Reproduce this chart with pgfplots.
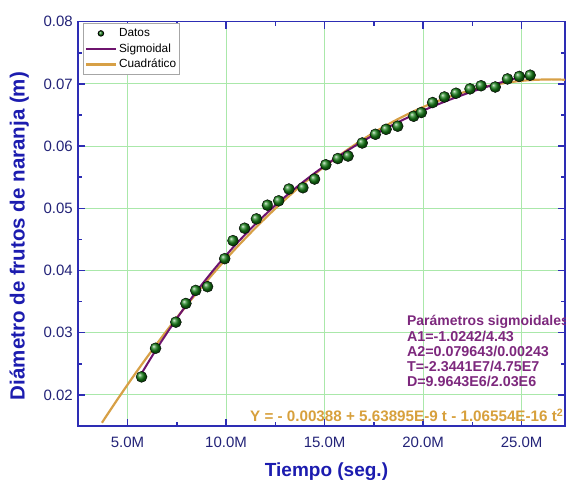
\documentclass[border=0pt]{standalone}
\usepackage{pgfplots}
\pgfplotsset{compat=1.18}
\usepackage{fontspec}
\setmainfont{Liberation Sans}
\definecolor{axisblue}{RGB}{45,45,180}
\definecolor{tickblue}{RGB}{35,35,120}
\definecolor{labelblue}{RGB}{28,28,175}
\definecolor{gridgreen}{RGB}{170,232,170}
\definecolor{dotgreen}{RGB}{20,125,20}
\definecolor{sigpurple}{RGB}{110,20,110}
\definecolor{quadorange}{RGB}{215,160,70}
\definecolor{parpurple}{RGB}{125,40,125}
\definecolor{eqorange}{RGB}{215,160,60}
\begin{document}
\begin{tikzpicture}
\begin{axis}[
  set layers,
  at={(0pt,0pt)}, anchor=south west,
  scale only axis, width=486.7pt, height=404.3pt,
  xmin=2.5, xmax=27.2, ymin=0.015, ymax=0.08,
  scaled y ticks=false, scaled x ticks=false,
  xtick={5,10,15,20,25}, xticklabels={5.0M,10.0M,15.0M,20.0M,25.0M},
  minor xtick={2.5,7.5,12.5,17.5,22.5},
  ytick={0.02,0.03,0.04,0.05,0.06,0.07,0.08},
  yticklabels={0.02,0.03,0.04,0.05,0.06,0.07,0.08},
  minor ytick={0.015,0.025,0.035,0.045,0.055,0.065,0.075},
  grid=major, major grid style={gridgreen, line width=0.8pt},
  axis line style={axisblue, line width=1.6pt},
  tick style={axisblue, line width=1.5pt},
  major tick length=7pt, minor tick length=4pt,
  tick align=inside,
  /pgf/number format/assume math mode=true,
  ticklabel style={font=\fontsize{15}{18}\selectfont, text=tickblue},
  xticklabel style={yshift=-7pt},
  yticklabel style={xshift=-2pt},
  xlabel={Tiempo (seg.)},
  every axis x label/.style={at={(axis description cs:0.51,-0.1138)}, anchor=center,
    font=\bfseries\fontsize{19}{22}\selectfont, text=labelblue},
  ylabel={Diámetro de frutos de naranja (m)},
  every axis y label/.style={at={(axis description cs:-0.1212,0.47)}, rotate=90, anchor=center,
    font=\bfseries\fontsize{20.5}{24}\selectfont, text=labelblue},
  reverse legend,
  legend cell align=left,
  legend style={at={(0,1)}, anchor=north west, xshift=5pt, yshift=-1.5pt,
    draw=gray!70, line width=0.8pt, font=\fontsize{11.8}{13}\selectfont,
    inner xsep=1pt, inner ysep=3pt, row sep=1.5pt},
]
\addplot[quadorange, line width=2.2pt, smooth,
  legend image code/.code={\draw[quadorange, line width=2.4pt] (0pt,0pt) -- (30pt,0pt);}]
  coordinates {(3.7,0.015525) (4.5,0.019337) (5.5,0.023911) (6.5,0.028271) (7.5,0.032418)
  (8.5,0.036353) (9.5,0.040074) (10.5,0.043581) (11.5,0.046876) (12.5,0.049958)
  (13.5,0.052826) (14.5,0.055482) (15.5,0.057924) (16.5,0.060153) (17.5,0.062170)
  (18.5,0.063972) (19.5,0.065562) (20.5,0.066938) (21.5,0.068102) (22.5,0.069053)
  (23.5,0.069790) (24.5,0.070314) (25.5,0.070626) (26.5,0.070724) (27.2,0.070666)};
\addlegendentry{Cuadrático}
\addplot[sigpurple, line width=2pt, smooth,
  legend image code/.code={\draw[sigpurple, line width=2.2pt] (0pt,0pt) -- (30pt,0pt);}]
  coordinates {(5.7,0.023396) (6.5,0.027533) (7.5,0.032296) (8.5,0.036640) (9.5,0.040602)
  (10.5,0.044209) (11.5,0.047494) (12.5,0.050483) (13.5,0.053201) (14.5,0.055670)
  (15.5,0.057914) (16.5,0.059952) (17.5,0.061802) (18.5,0.063481) (19.5,0.065003)
  (20.5,0.066385) (21.5,0.067637) (22.5,0.068772) (23.5,0.069801) (24.5,0.070733)
  (25.45,0.071537)};
\addlegendentry{Sigmoidal}
\addplot[only marks, mark=ball, mark size=5.5pt, mark options={ball color=dotgreen},
  legend image code/.code={\path (0pt,0pt) (30pt,0pt); \shade[ball color=dotgreen] (15pt,0pt) circle (2.8pt);}]
  coordinates {(5.71,0.0229) (6.42,0.0275) (7.45,0.0317) (7.96,0.0347) (8.46,0.0368)
  (9.06,0.0374) (9.93,0.0419) (10.35,0.0448) (10.94,0.0468) (11.54,0.0483)
  (12.10,0.0505) (12.67,0.0512) (13.19,0.0531) (13.90,0.0533) (14.49,0.0547)
  (15.06,0.0570) (15.67,0.0580) (16.19,0.0584) (16.91,0.0605) (17.58,0.0619)
  (18.12,0.0627) (18.71,0.0632) (19.52,0.0648) (19.91,0.0654) (20.48,0.0670)
  (21.08,0.0679) (21.67,0.0685) (22.38,0.0692) (22.94,0.0697) (23.66,0.0695)
  (24.28,0.0708) (24.88,0.0712) (25.43,0.0714)};
\addlegendentry{Datos}
\node[anchor=west, inner sep=0pt, text=parpurple, font=\bfseries\fontsize{14}{15}\selectfont]
  at (rel axis cs:0.675,0.258) {Parámetros sigmoidales};
\node[anchor=west, inner sep=0pt, text=parpurple, font=\bfseries\fontsize{14.3}{15}\selectfont]
  at (rel axis cs:0.675,0.221) {A1=-1.0242/4.43};
\node[anchor=west, inner sep=0pt, text=parpurple, font=\bfseries\fontsize{14.3}{15}\selectfont]
  at (rel axis cs:0.675,0.184) {A2=0.079643/0.00243};
\node[anchor=west, inner sep=0pt, text=parpurple, font=\bfseries\fontsize{14.3}{15}\selectfont]
  at (rel axis cs:0.675,0.147) {T=-2.3441E7/4.75E7};
\node[anchor=west, inner sep=0pt, text=parpurple, font=\bfseries\fontsize{14.3}{15}\selectfont]
  at (rel axis cs:0.675,0.110) {D=9.9643E6/2.03E6};
\node[anchor=east, inner sep=0pt, text=eqorange, font=\bfseries\fontsize{15.2}{16}\selectfont]
  at (rel axis cs:0.997,0.027) {Y = - 0.00388 + 5.63895E-9 t - 1.06554E-16 t\textsuperscript{2}};
\end{axis}
\path (-78.3pt,-58pt) rectangle (494.7pt,426pt);
\end{tikzpicture}
\end{document}
